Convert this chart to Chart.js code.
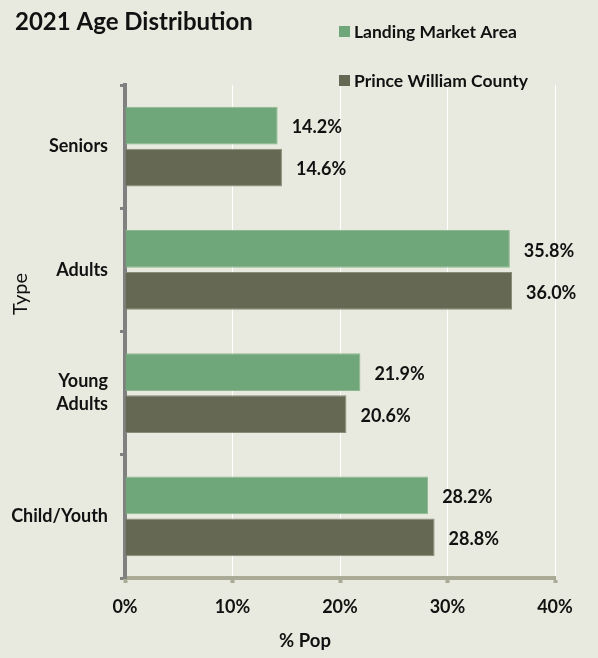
<!DOCTYPE html>
<html>
<head>
<meta charset="utf-8">
<script src="https://cdn.jsdelivr.net/npm/chart.js@4"></script>
<style>
html,body{margin:0;padding:0;background:#e9eadf;}
#wrap{width:598px;height:658px;position:relative;}
</style>
</head>
<body>
<div id="wrap"><canvas id="c" width="598" height="658"></canvas></div>
<script>
const categories = ['Seniors', 'Adults', ['Young', 'Adults'], 'Child/Youth'];
const landingMarketArea = [14.2, 35.8, 21.9, 28.2];
const princeWilliamCounty = [14.6, 36.0, 20.6, 28.8];
const xTicks = [0, 10, 20, 30, 40];
const seriesNames = ['Landing Market Area', 'Prince William County'];
const titleText = '2021 Age Distribution';
const xTitle = '% Pop';
const yTitle = 'Type';

const FONT = 'Lato, "Open Sans", sans-serif';

const bgPlugin = {
  id: 'bg',
  beforeDraw(chart) {
    const ctx = chart.ctx;
    ctx.save();
    ctx.fillStyle = '#e9eadf';
    ctx.fillRect(0, 0, chart.width, chart.height);
    ctx.restore();
  }
};

const labelPlugin = {
  id: 'valueLabels',
  afterDatasetsDraw(chart) {
    const ctx = chart.ctx;
    ctx.save();
    ctx.font = 'bold 18px ' + FONT;
    ctx.fillStyle = '#111';
    ctx.textAlign = 'left';
    ctx.textBaseline = 'middle';
    chart.data.datasets.forEach((ds, i) => {
      const meta = chart.getDatasetMeta(i);
      meta.data.forEach((bar, j) => {
        ctx.fillText(ds.data[j].toFixed(1) + '%', bar.x + 14, bar.y + 2);
      });
    });
    ctx.restore();
  }
};

const headerPlugin = {
  id: 'header',
  afterDraw(chart) {
    const ctx = chart.ctx;
    ctx.save();
    ctx.fillStyle = '#111';
    ctx.textBaseline = 'middle';
    ctx.textAlign = 'left';
    ctx.font = 'bold 24px ' + FONT;
    ctx.fillText(titleText, 15, 22);
    ctx.font = 'bold 17.5px ' + FONT;
    const ys = [31, 80];
    chart.data.datasets.forEach((ds, i) => {
      ctx.fillStyle = ds.backgroundColor;
      ctx.fillRect(339, ys[i] - 5, 11, 11);
      ctx.fillStyle = '#111';
      ctx.fillText(ds.label, 354, ys[i] + 1);
    });
    // axis titles
    ctx.textAlign = 'center';
    ctx.font = 'bold 18.5px ' + FONT;
    ctx.fillText(xTitle, 305, 641);
    ctx.translate(21, 294);
    ctx.rotate(-Math.PI / 2);
    ctx.font = '20px ' + FONT;
    ctx.fillText(yTitle, 0, 0);
    ctx.restore();
  }
};

new Chart(document.getElementById('c'), {
  type: 'bar',
  data: {
    labels: categories,
    datasets: [
      { label: seriesNames[0], data: landingMarketArea, backgroundColor: '#6fa67a', borderColor: '#8cb890', borderWidth: 1, categoryPercentage: 0.68, barPercentage: 0.9 },
      { label: seriesNames[1], data: princeWilliamCounty, backgroundColor: '#656953', borderColor: '#8a8c78', borderWidth: 1, categoryPercentage: 0.68, barPercentage: 0.9 }
    ]
  },
  options: {
    indexAxis: 'y',
    responsive: false,
    animation: false,
    devicePixelRatio: 1,
    layout: { padding: { top: 85, right: 43, left: 0, bottom: 0 } },
    plugins: { legend: { display: false }, title: { display: false }, tooltip: { enabled: false } },
    scales: {
      x: {
        min: 0, max: 40,
        afterBuildTicks(scale) { scale.ticks = xTicks.map(v => ({ value: v })); },
        afterFit(scale) { scale.height = 80; },
        ticks: { callback: v => v + '%', color: '#111', font: { family: FONT, weight: 'bold', size: 18 }, padding: 13 },
        grid: { color: '#ffffff', lineWidth: 1, drawTicks: true, tickLength: 5, tickColor: '#a9ab96', tickWidth: 4 },
        border: { color: '#a9ab96', width: 4 }
      },
      y: {
        afterFit(scale) { scale.width = 125; },
        ticks: { color: '#111', font: { family: FONT, weight: 'bold', size: 18, lineHeight: 1.28 }, padding: 12 },
        grid: { drawOnChartArea: false, drawTicks: true, tickLength: 5, tickColor: '#808080', tickWidth: 3, offset: true },
        border: { color: '#808080', width: 4 }
      }
    }
  },
  plugins: [bgPlugin, labelPlugin, headerPlugin]
});
</script>
</body>
</html>
